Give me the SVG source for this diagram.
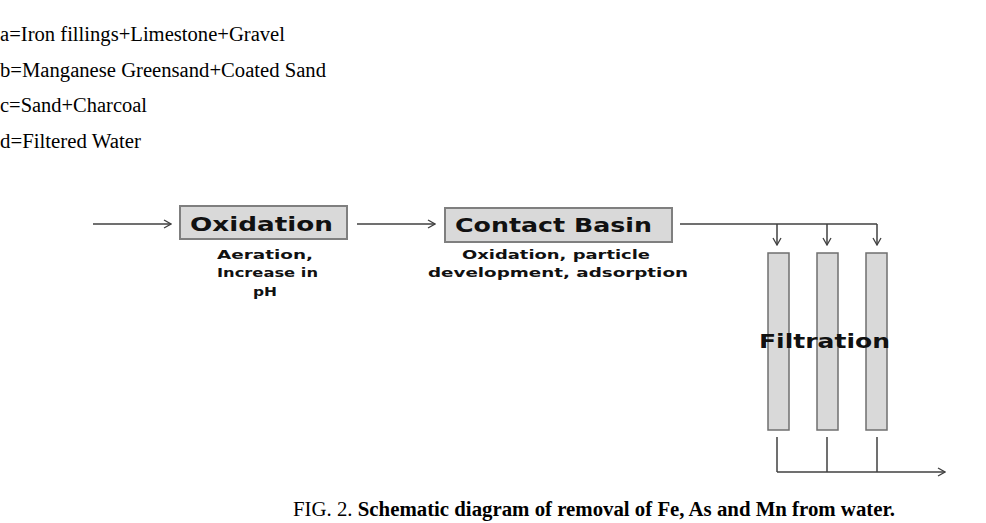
<svg xmlns="http://www.w3.org/2000/svg" width="986" height="523" viewBox="0 0 986 523">
<style>
.leg{font-family:"Liberation Serif",serif;font-size:20px;fill:#000}
.box{fill:#d9d9d9;stroke:#7f7f7f;stroke-width:2}
.col{fill:#d9d9d9;stroke:#6f6f6f;stroke-width:1.5}
.title{font-family:"DejaVu Sans",Verdana,sans-serif;font-weight:bold;font-size:20px;fill:#111}
.sub{font-family:"DejaVu Sans",Verdana,sans-serif;font-weight:bold;font-size:13px;fill:#111}
.ln{stroke:#404040;stroke-width:1.5;fill:none}
.cap{font-family:"Liberation Serif",serif;font-size:20px;fill:#000}
</style>
<defs>
<marker id="ah" markerWidth="10" markerHeight="10" refX="9" refY="5" orient="auto" markerUnits="userSpaceOnUse">
<path d="M2,1 L9,5 L2,9" fill="none" stroke="#404040" stroke-width="1.3"/>
</marker>
</defs>
<rect width="986" height="523" fill="#fff"/>
<g id="legend">
<text class="leg" x="0" y="41" textLength="285" lengthAdjust="spacingAndGlyphs">a=Iron fillings+Limestone+Gravel</text>
<text class="leg" x="0" y="77" textLength="326" lengthAdjust="spacingAndGlyphs">b=Manganese Greensand+Coated Sand</text>
<text class="leg" x="0" y="112" textLength="147" lengthAdjust="spacingAndGlyphs">c=Sand+Charcoal</text>
<text class="leg" x="0" y="148" textLength="141" lengthAdjust="spacingAndGlyphs">d=Filtered Water</text>
</g>
<g id="connectors">
<line class="ln" x1="93" y1="224" x2="171" y2="224" marker-end="url(#ah)"/>
<line class="ln" x1="357" y1="224" x2="435" y2="224" marker-end="url(#ah)"/>
<polyline class="ln" points="680,224 877,224"/>
<line class="ln" x1="777" y1="224" x2="777" y2="245" marker-end="url(#ah)"/>
<line class="ln" x1="827" y1="224" x2="827" y2="245" marker-end="url(#ah)"/>
<line class="ln" x1="877" y1="224" x2="877" y2="245" marker-end="url(#ah)"/>
<line class="ln" x1="777" y1="437" x2="777" y2="472"/>
<line class="ln" x1="827" y1="437" x2="827" y2="472"/>
<line class="ln" x1="877" y1="437" x2="877" y2="472"/>
<line class="ln" x1="777" y1="472" x2="945" y2="472" marker-end="url(#ah)"/>
</g>
<g id="oxidation">
<rect class="box" x="180" y="206" width="167" height="33"/>
<text class="title" x="190" y="231" textLength="143" lengthAdjust="spacingAndGlyphs">Oxidation</text>
<text class="sub" x="217" y="259" textLength="96" lengthAdjust="spacingAndGlyphs">Aeration,</text>
<text class="sub" x="217" y="277" textLength="101" lengthAdjust="spacingAndGlyphs">Increase in</text>
<text class="sub" x="253" y="296" textLength="24" lengthAdjust="spacingAndGlyphs">pH</text>
</g>
<g id="contact-basin">
<rect class="box" x="445" y="208" width="227" height="34"/>
<text class="title" x="455" y="232" textLength="197" lengthAdjust="spacingAndGlyphs">Contact Basin</text>
<text class="sub" x="462" y="259" textLength="188" lengthAdjust="spacingAndGlyphs">Oxidation, particle</text>
<text class="sub" x="428" y="277" textLength="260" lengthAdjust="spacingAndGlyphs">development, adsorption</text>
</g>
<g id="filtration">
<rect class="col" x="768" y="253" width="21" height="177"/>
<rect class="col" x="817" y="253" width="21" height="177"/>
<rect class="col" x="866" y="253" width="21" height="177"/>
<text class="title" x="759" y="348" textLength="131" lengthAdjust="spacingAndGlyphs">Filtration</text>
</g>
<g id="caption">
<text class="cap" x="293" y="516" textLength="602" lengthAdjust="spacingAndGlyphs">FIG. 2. <tspan font-weight="bold">Schematic diagram of removal of Fe, As and Mn from water.</tspan></text>
</g>
</svg>
